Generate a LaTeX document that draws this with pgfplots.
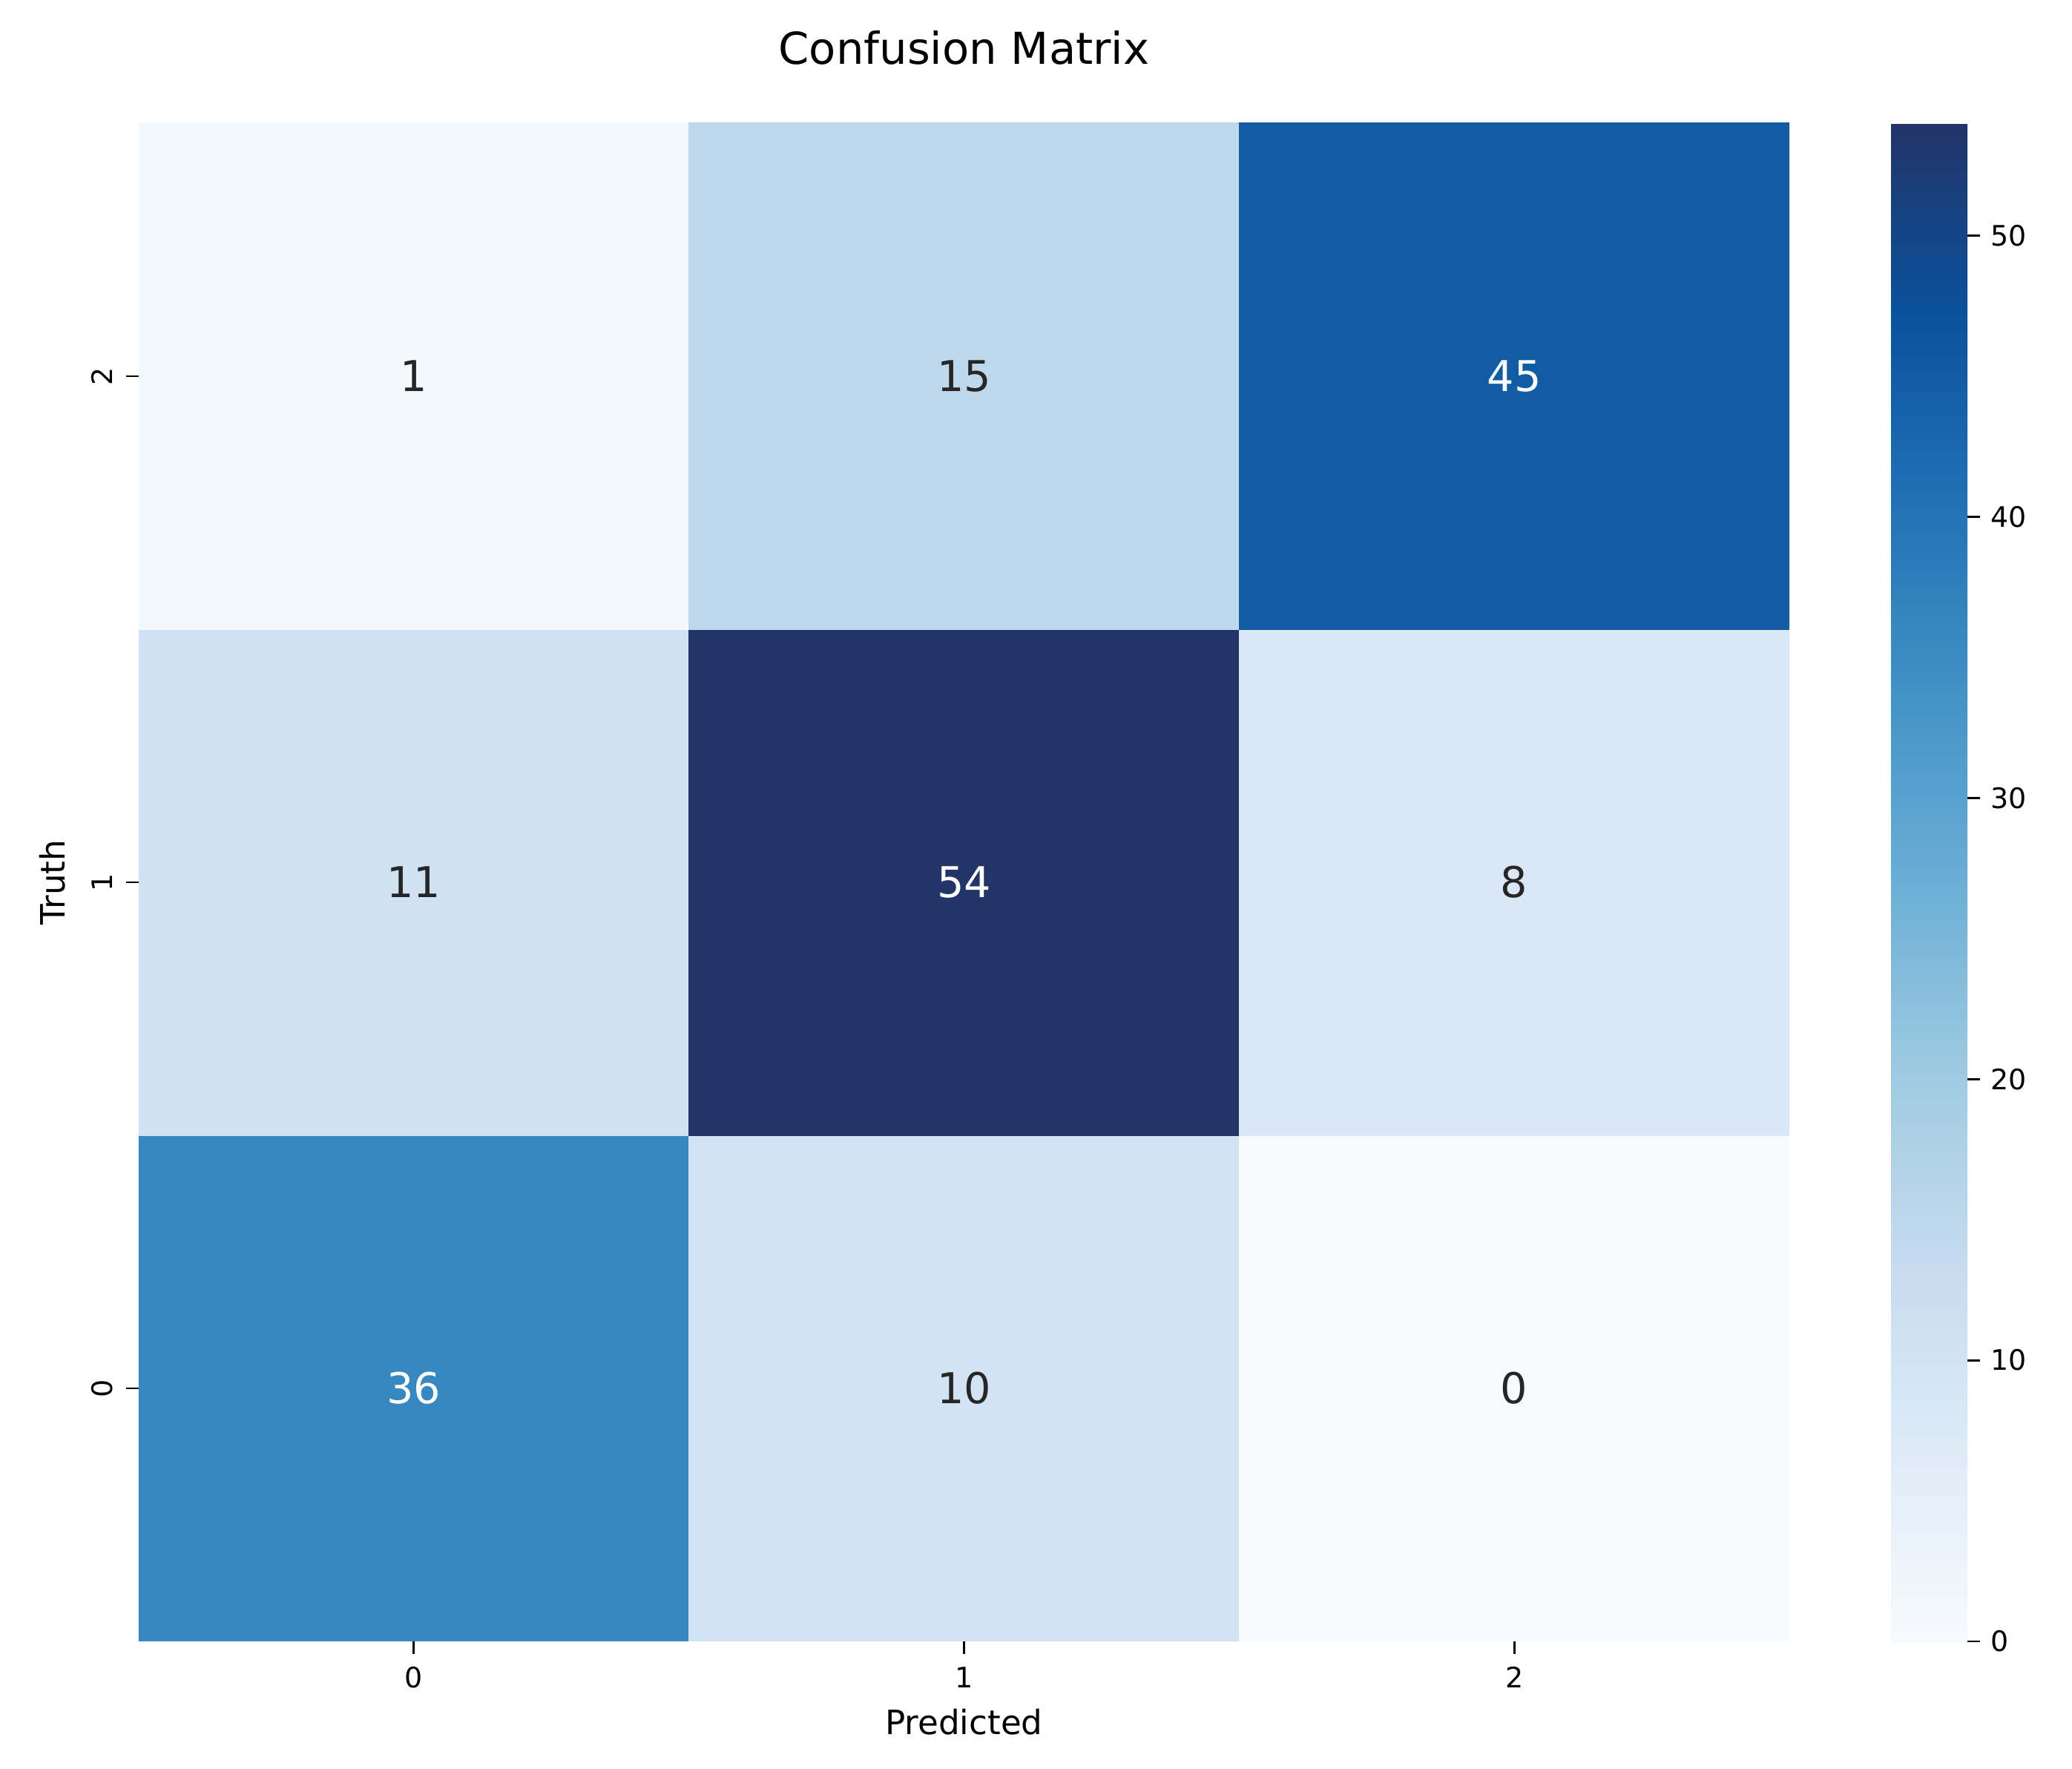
\documentclass[border=0pt]{standalone}
\usepackage{fontspec}
\setmainfont{DejaVu Sans}
\usepackage{pgfplots}
\pgfplotsset{compat=1.18}
\definecolor{txtdark}{RGB}{38,38,38}
\begin{document}
\begin{tikzpicture}
\path[use as bounding box] (-46.75pt,-43pt) rectangle (651.5pt,553pt);
\begin{axis}[
  at={(0,0)}, anchor=south west,
  scale only axis, width=556.25pt, height=511.5pt,
  xmin=-0.5, xmax=2.5, ymin=-0.5, ymax=2.5,
  enlargelimits=false,
  axis line style={draw=none},
  xtick={0,1,2}, ytick={0,1,2},
  xticklabels={0,1,2}, yticklabels={0,1,2},
  tick pos=left, tick align=outside, major tick length=4.2pt,
  tick style={line width=0.7pt, black},
  tick label style={font=\fontsize{9.5}{11}\selectfont},
  xticklabel style={anchor=base, yshift=-11.55pt},
  yticklabel style={xshift=-4.55pt, rotate=90, anchor=base},
  every axis x label/.style={at={(axis description cs:0.5,0)}, yshift=-31.5pt, anchor=base, font=\fontsize{11.3}{13}\selectfont},
  every axis y label/.style={at={(axis description cs:0,0.5)}, xshift=-24.75pt, rotate=90, anchor=base, font=\fontsize{11.3}{13}\selectfont},
  every axis title/.style={at={(axis description cs:0.5,1)}, yshift=19.75pt, anchor=base, font=\fontsize{14.8}{17}\selectfont},
  title={Confusion Matrix},
  xlabel={Predicted}, ylabel={Truth},
  colormap={blues}{rgb255(0)=(247,250,253) rgb255(1)=(222,235,247) rgb255(2)=(198,219,239) rgb255(3)=(158,202,225) rgb255(4)=(107,174,214) rgb255(5)=(66,146,198) rgb255(6)=(33,113,181) rgb255(7)=(10,81,156) rgb255(8)=(34,52,104)},
  point meta min=0, point meta max=54,
  colorbar,
  colorbar/width=25.75pt,
  colorbar style={
    at={(parent axis.north east)}, anchor=north west, xshift=25.75pt,
    scale only axis, width=25.75pt, height=511.5pt,
    axis line style={draw=none},
    ytick={0,10,20,30,40,50}, yticklabels={0,10,20,30,40,50},
    ytick pos=right, yticklabel pos=right,
    tick align=outside, major tick length=4.2pt,
    tick style={line width=0.7pt, black},
    yticklabel style={font=\fontsize{9.5}{11}\selectfont},
  },
]
\addplot[matrix plot*, mesh/cols=3, point meta=explicit] coordinates {
  (0,0) [36] (1,0) [10] (2,0) [0]
  (0,1) [11] (1,1) [54] (2,1) [8]
  (0,2) [1]  (1,2) [15] (2,2) [45]
};
\addplot[draw=none, forget plot, point meta=explicit symbolic,
  nodes near coords={\pgfplotspointmeta},
  every node near coord/.append style={anchor=center, text=txtdark, font=\fontsize{14.3}{17}\selectfont}]
  coordinates {(0,2) [1] (1,2) [15] (0,1) [11] (2,1) [8] (1,0) [10] (2,0) [0]};
\addplot[draw=none, forget plot, point meta=explicit symbolic,
  nodes near coords={\pgfplotspointmeta},
  every node near coord/.append style={anchor=center, text=white, font=\fontsize{14.3}{17}\selectfont}]
  coordinates {(2,2) [45] (1,1) [54] (0,0) [36]};
\end{axis}
\end{tikzpicture}
\end{document}
